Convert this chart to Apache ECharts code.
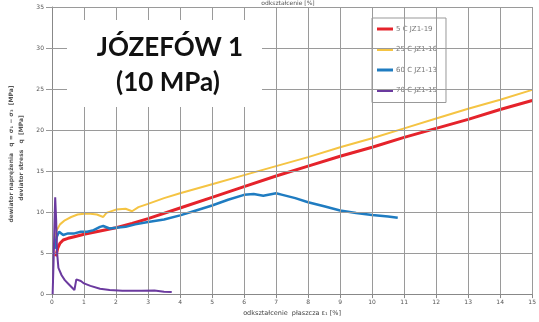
<!DOCTYPE html>
<html>
<head>
<meta charset="utf-8">
<script src="https://cdn.jsdelivr.net/npm/echarts@6/dist/echarts.min.js"></script>
<style>html,body{margin:0;padding:0;background:#fff}#c{width:539px;height:322px}</style>
</head>
<body>
<div id="c"></div>
<script>
var seriesNames = ['5 C JZ1-19', '25 C JZ1-16', '60 C JZ1-13', '70 C JZ1-15'];
var xTicks = [0,1,2,3,4,5,6,7,8,9,10,11,12,13,14,15];
var yTicks = [0,5,10,15,20,25,30,35];

var red5C = [[0.12,4.6],[0.18,5.6],[0.25,6.2],[0.35,6.6],[0.5,6.8],[0.7,7.0],[1.0,7.3],[1.5,7.7],[2.0,8.1],[2.5,8.6],[3.0,9.2],[4,10.5],[5,11.8],[6,13.1],[7,14.4],[8,15.6],[9,16.8],[10,17.9],[11,19.1],[12,20.2],[13,21.3],[14,22.5],[15,23.6]];
var yellow25C = [[0.08,6.5],[0.15,7.8],[0.25,8.5],[0.4,9.0],[0.6,9.4],[0.8,9.7],[1.0,9.8],[1.2,9.8],[1.4,9.7],[1.6,9.4],[1.7,9.9],[2.0,10.3],[2.3,10.4],[2.5,10.1],[2.7,10.6],[3.0,11.0],[3.5,11.7],[4,12.3],[5,13.4],[6,14.5],[7,15.6],[8,16.7],[9,17.9],[10,19.0],[11,20.2],[12,21.4],[13,22.6],[14,23.7],[15,24.9]];
var blue60C = [[0.08,5.5],[0.15,7.0],[0.22,7.6],[0.28,7.8],[0.35,7.2],[0.5,7.4],[0.7,7.4],[0.9,7.6],[1.1,7.6],[1.3,7.8],[1.5,8.2],[1.6,8.3],[1.8,8.0],[2.0,8.1],[2.3,8.2],[2.6,8.5],[3.0,8.8],[3.5,9.1],[4.0,9.6],[4.5,10.2],[5.0,10.8],[5.5,11.5],[6.0,12.1],[6.3,12.2],[6.6,12.0],[7.0,12.3],[7.2,12.1],[7.6,11.7],[8.0,11.2],[8.5,10.7],[9.0,10.2],[9.5,9.9],[10.0,9.65],[10.5,9.45],[10.8,9.3]];
var purple70C = [[0.02,0],[0.05,4],[0.08,9],[0.1,11.8],[0.13,9],[0.16,5],[0.2,3.2],[0.3,2.3],[0.4,1.7],[0.5,1.3],[0.6,0.9],[0.7,0.5],[0.74,0.4],[0.76,1.8],[0.9,1.6],[1.0,1.3],[1.2,1.0],[1.5,0.65],[1.8,0.5],[2.2,0.4],[2.8,0.4],[3.2,0.45],[3.5,0.3],[3.74,0.25]];

var colors = ['#e5232b', '#f5c443', '#1f7cc1', '#6b3a9f'];
var widths = [3, 2, 2.5, 2];
var dataSets = [red5C, yellow25C, blue60C, purple70C];

var chart = echarts.init(document.getElementById('c'), null, {renderer: 'canvas'});
var gridCol = '#9a9a9a';

var gridMarks = xTicks.slice(1).map(function (v) { return {xAxis: v}; })
  .concat(yTicks.slice(1).map(function (v) { return {yAxis: v}; }));

var lineSeries = seriesNames.map(function (n, i) {
  return {
    name: n, type: 'line', data: dataSets[i], showSymbol: false, symbol: 'none',
    lineStyle: {color: colors[i], width: widths[i]}, itemStyle: {color: colors[i]},
    z: i === 3 ? 5 : 3
  };
});
lineSeries.unshift({
  name: 'grid', type: 'line', data: [[0, 0]], showSymbol: false, symbol: 'none',
  lineStyle: {width: 0, opacity: 0}, silent: true, z: 1,
  markLine: {
    silent: true, symbol: ['none', 'none'], animation: false,
    label: {show: false},
    lineStyle: {color: gridCol, width: 1, type: 'solid'},
    emphasis: {disabled: true},
    data: gridMarks
  }
});

var option = {
  animation: false,
  backgroundColor: '#fff',
  grid: {left: 52, right: 1, top: 7, bottom: 24, containLabel: false},
  xAxis: {
    type: 'value', min: xTicks[0], max: xTicks[xTicks.length - 1], interval: 1,
    name: 'odkształcenie  płaszcza ε\u2081 [%]', nameLocation: 'middle', nameGap: 15,
    nameTextStyle: {fontSize: 6.5, color: '#444', fontFamily: 'DejaVu Sans'},
    axisLine: {show: true, lineStyle: {color: '#888'}},
    axisTick: {show: true, length: 4, lineStyle: {color: '#888'}},
    axisLabel: {fontSize: 6, color: '#555', margin: 5, fontFamily: 'DejaVu Sans'},
    splitLine: {show: false}
  },
  yAxis: {
    type: 'value', min: yTicks[0], max: yTicks[yTicks.length - 1], interval: 5,
    axisLine: {show: true, lineStyle: {color: '#888'}},
    axisTick: {show: true, length: 6, lineStyle: {color: '#999'}},
    axisLabel: {fontSize: 6, color: '#555', margin: 8, fontFamily: 'DejaVu Sans'},
    splitLine: {show: false}
  },
  legend: {
    orient: 'vertical', left: 372, top: 18,
    data: seriesNames,
    backgroundColor: '#fff', borderColor: '#999', borderWidth: 1,
    padding: [6, 5, 7, 5],
    itemGap: 10.5, itemWidth: 16, itemHeight: 3, icon: 'rect',
    textStyle: {fontSize: 7, color: '#777', lineHeight: 10, fontFamily: 'DejaVu Sans', padding: [0, 4, 0, -2]}
  },
  series: lineSeries,
  graphic: [
    {type: 'rect', left: 67, top: 20, shape: {width: 195, height: 87}, style: {fill: '#fff'}, z: 50},
    {type: 'text', x: 170, y: 48, z: 52, style: {text: 'JÓZEFÓW 1', font: 'bold 26px Lato', fill: '#111', textAlign: 'center', textVerticalAlign: 'middle'}},
    {type: 'text', x: 168, y: 83, z: 52, style: {text: '(10 MPa)', font: 'bold 26px Lato', fill: '#111', textAlign: 'center', textVerticalAlign: 'middle'}},
    {type: 'text', x: 288, y: 3, z: 52, style: {text: 'odkształcenie [%]', font: '6px DejaVu Sans', fill: '#555', textAlign: 'center', textVerticalAlign: 'middle'}},
    {type: 'text', x: 11, y: 154, rotation: Math.PI / 2, z: 52, style: {text: 'dewiator naprężenia   q = σ\u2081 − σ\u2083  [MPa]', font: 'bold 6px DejaVu Sans', fill: '#555', textAlign: 'center', textVerticalAlign: 'middle'}},
    {type: 'text', x: 21, y: 158, rotation: Math.PI / 2, z: 52, style: {text: 'deviator stress   q  [MPa]', font: 'bold 6px DejaVu Sans', fill: '#555', textAlign: 'center', textVerticalAlign: 'middle'}}
  ]
};
chart.setOption(option);
</script>
</body>
</html>
